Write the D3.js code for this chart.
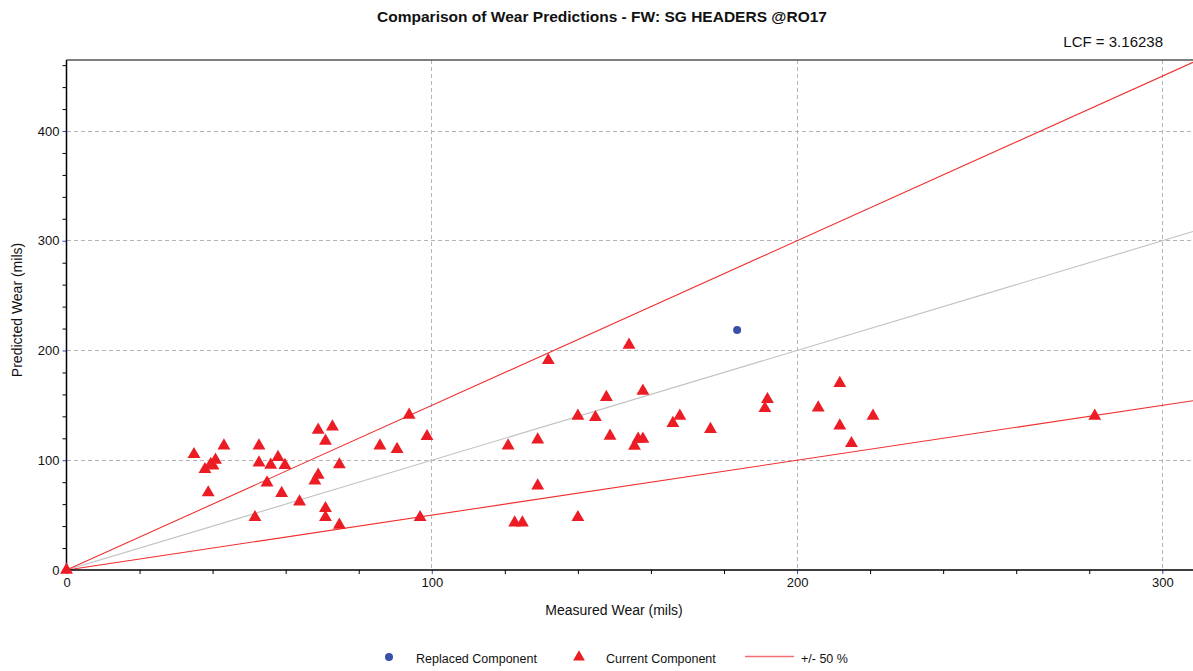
<!DOCTYPE html>
<html><head><meta charset="utf-8">
<script src="https://cdn.jsdelivr.net/npm/d3@7"></script>
<style>body{margin:0;background:#fff;} svg{display:block;font-family:"Liberation Sans",Arial,sans-serif;}</style>
</head><body><svg id="c" width="1193" height="671"></svg>
<script>
const titleText = "Comparison of Wear Predictions - FW: SG HEADERS @RO17";
const lcfText = "LCF = 3.16238";
const xLabel = "Measured Wear (mils)";
const yLabel = "Predicted Wear (mils)";
const majorTicks = [0, 100, 200, 300, 400];
const minorStep = 20;
const refSlopes = [0.5, 1.0, 1.5];
const refNames = ["lower", "equal", "upper"];
// Current component: measured (x), predicted (y)
const currentX = [0,34.9,37.9,38.8,40.1,40.8,39.5,43.1,52.7,52.7,51.6,54.9,55.9,57.9,59.8,58.9,63.8,68.9,72.8,70.9,68.9,68.0,74.7,70.9,70.9,74.7,85.8,90.5,93.8,98.7,96.8,
  154,131.9,147.8,157.8,140,144.8,120.9,129,148.8,156.5,157.8,155.5,166,167.9,176.3,129,122.7,124.8,140,
  191.9,191.2,211.7,205.8,211.7,220.8,214.9,281.5];
const currentY = [0,105.4,91.7,70.5,95,100.2,96.5,113.3,113.3,97.8,48,79.5,95.7,102.7,95.4,69.9,62.2,127.6,130.6,117.5,86.6,81.4,96,56.2,48,41,113.3,110,141.2,121.8,48,
  205,191,157.4,163.1,140.3,139.1,113.3,118.7,122.1,119.4,119.4,113,133.7,140.3,128.2,76.8,43.1,43.1,48,
  155.5,147.3,170.1,147.9,131.5,140.3,115.4,140.3];
// Replaced component
const replacedX = [183.6];
const replacedY = [218.7];
const legendLabels = ["Replaced Component", "Current Component", "+/- 50 %"];

const W = 1193, H = 671;
const plot = {l: 66.5, t: 60, r: 1193, b: 570};
const svg = d3.select("#c");
const x = d3.scaleLinear().domain([0, 308.4]).range([plot.l, plot.r]);
const y = d3.scaleLinear().domain([0, 464.7]).range([plot.b, plot.t]);

svg.append("defs").append("clipPath").attr("id","clip").append("rect")
  .attr("x", plot.l).attr("y", plot.t).attr("width", plot.r-plot.l).attr("height", plot.b-plot.t);

// title
svg.append("text").attr("x", 602).attr("y", 22).attr("text-anchor","middle")
  .attr("font-weight","bold").attr("font-size",15.5).attr("fill","#111")
  .attr("textLength", 450).attr("lengthAdjust","spacingAndGlyphs").text(titleText);
svg.append("text").attr("x", 1163).attr("y", 47).attr("text-anchor","end")
  .attr("font-size",15).attr("fill","#111").text(lcfText);

// grid
const xMajor = majorTicks.filter(v => v > 0 && v <= x.domain()[1]);
const yMajor = majorTicks.filter(v => v > 0 && v <= y.domain()[1]);
const g = svg.append("g");
g.selectAll(".gx").data(xMajor).join("line")
  .attr("x1", d=>x(d)).attr("x2", d=>x(d)).attr("y1", plot.t).attr("y2", plot.b)
  .attr("stroke","#b4b4b4").attr("stroke-dasharray","4,3").attr("shape-rendering","crispEdges");
g.selectAll(".gy").data(yMajor).join("line")
  .attr("y1", d=>y(d)).attr("y2", d=>y(d)).attr("x1", plot.l).attr("x2", plot.r)
  .attr("stroke","#b4b4b4").attr("stroke-dasharray","4,3").attr("shape-rendering","crispEdges");

// reference lines
const refColors = ["#f03030", "#c0c0c0", "#f03030"];
const lineGen = d3.line().x(d=>x(d[0])).y(d=>y(d[1]));
const xs = [0, x.domain()[1]];
const lg = svg.append("g").attr("clip-path","url(#clip)");
refSlopes.forEach((k,i) => {
  lg.append("path").attr("class", refNames[i]).attr("d", lineGen(xs.map(v=>[v, k*v])))
    .attr("fill","none").attr("stroke", refColors[i]).attr("stroke-width", 1.1);
});

// axes borders
svg.append("line").attr("x1", plot.l).attr("x2", plot.r).attr("y1", plot.t).attr("y2", plot.t)
  .attr("stroke","#555").attr("stroke-width",1.5);
const xMinor = d3.range(0, x.domain()[1], minorStep).filter(v => v % 100 !== 0);
const yMinor = d3.range(0, y.domain()[1], minorStep).filter(v => v % 100 !== 0);
svg.append("g").attr("transform", `translate(0,${plot.b})`)
  .call(d3.axisBottom(x).tickValues(xMinor).tickSize(4).tickFormat(""))
  .call(s => s.select(".domain").remove())
  .call(s => s.selectAll("line").attr("stroke","#000"));
svg.append("g").attr("transform", `translate(${plot.l},0)`)
  .call(d3.axisLeft(y).tickValues(yMinor).tickSize(4).tickFormat(""))
  .call(s => s.select(".domain").remove())
  .call(s => s.selectAll("line").attr("stroke","#000"));
const xAx = svg.append("g").attr("transform", `translate(0,${plot.b})`)
  .call(d3.axisBottom(x).tickValues(majorTicks.filter(v=>v<=x.domain()[1])).tickSize(4).tickPadding(4).tickFormat(d3.format("d")));
xAx.select(".domain").remove();
xAx.selectAll("line").attr("stroke","#3050c0");
xAx.selectAll("text").attr("font-size",13).attr("fill","#111").attr("font-family","Liberation Sans, Arial, sans-serif");
const yAx = svg.append("g").attr("transform", `translate(${plot.l},0)`)
  .call(d3.axisLeft(y).tickValues(majorTicks.filter(v=>v<=y.domain()[1])).tickSize(4).tickPadding(3).tickFormat(d3.format("d")));
yAx.select(".domain").remove();
yAx.selectAll("line").attr("stroke","#3050c0");
yAx.selectAll("text").attr("font-size",13).attr("fill","#111").attr("font-family","Liberation Sans, Arial, sans-serif");
svg.append("line").attr("x1", plot.l).attr("x2", plot.r).attr("y1", plot.b).attr("y2", plot.b)
  .attr("stroke","#000").attr("stroke-width",1.5);
svg.append("line").attr("x1", plot.l).attr("x2", plot.l).attr("y1", plot.t).attr("y2", plot.b)
  .attr("stroke","#000").attr("stroke-width",1.5);

// axis titles
svg.append("text").attr("x", 614).attr("y", 615).attr("text-anchor","middle")
  .attr("font-size",14).attr("fill","#111").text(xLabel);
svg.append("text").attr("transform","translate(22,310) rotate(-90)").attr("text-anchor","middle")
  .attr("font-size",14).attr("fill","#111").text(yLabel);

// points
const tri = d3.symbol().type(d3.symbolTriangle).size(72);
const pts = d3.zip(currentX, currentY);
svg.append("g").selectAll("path").data(pts).join("path")
  .attr("d", tri).attr("transform", d=>`translate(${x(d[0])},${y(d[1])})`)
  .attr("fill","#ec1c24");
svg.append("g").selectAll("circle").data(d3.zip(replacedX, replacedY)).join("circle")
  .attr("cx", d=>x(d[0])).attr("cy", d=>y(d[1])).attr("r", 4).attr("fill","#3a50a8");

// legend
const leg = svg.append("g").attr("font-size",12.5).attr("fill","#111");
leg.append("circle").attr("cx",389).attr("cy",657).attr("r",4).attr("fill","#3a50a8");
leg.append("text").attr("x",416).attr("y",662.5).text(legendLabels[0]);
leg.append("path").attr("d", d3.symbol().type(d3.symbolTriangle).size(60))
  .attr("transform","translate(579,657)").attr("fill","#ec1c24");
leg.append("text").attr("x",606).attr("y",662.5).text(legendLabels[1]);
leg.append("line").attr("x1",745).attr("x2",794).attr("y1",656.5).attr("y2",656.5)
  .attr("stroke","#f07070").attr("stroke-width",1.5);
leg.append("text").attr("x",801).attr("y",662.5).text(legendLabels[2]);
</script></body></html>
